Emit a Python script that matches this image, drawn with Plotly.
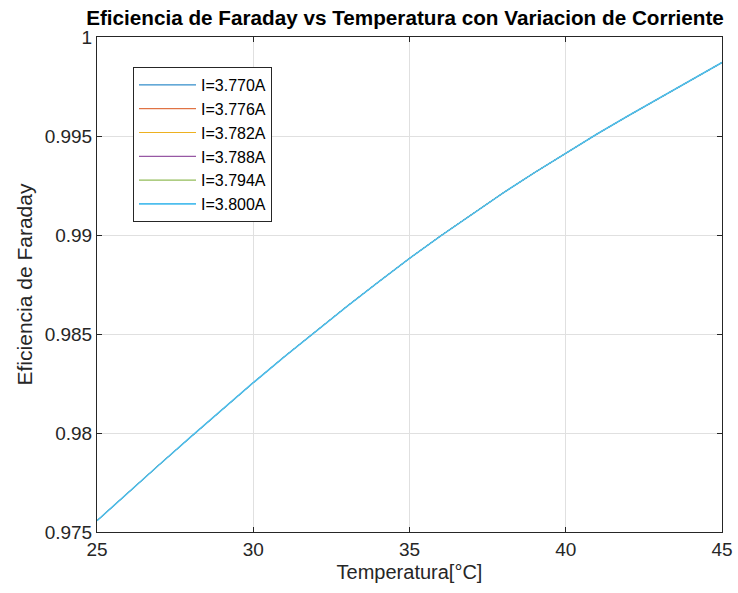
import plotly.graph_objects as go

# Data
temperatura = [25, 26, 27, 28, 29, 30, 31, 32, 33, 34, 35,
               36, 37, 38, 39, 40, 41, 42, 43, 44, 45]
eficiencia = [0.97557, 0.97700, 0.97841, 0.97980, 0.98117, 0.98254,
              0.98386, 0.98515, 0.98640, 0.98762, 0.98882, 0.98996,
              0.99106, 0.99213, 0.99315, 0.99413, 0.99510, 0.99602,
              0.99692, 0.99781, 0.99871]
corrientes = ["I=3.770A", "I=3.776A", "I=3.782A", "I=3.788A", "I=3.794A", "I=3.800A"]
colores = ["#0072BD", "#D95319", "#EDB120", "#7E2F8E", "#77AC30", "#4DBEEE"]
anchos = [1.0, 1.0, 1.0, 1.0, 1.0, 1.6]

x_ticks = [25, 30, 35, 40, 45]
y_ticks = [0.975, 0.98, 0.985, 0.99, 0.995, 1]
y_ticklabels = ["0.975", "0.98", "0.985", "0.99", "0.995", "1"]

FONT = "Liberation Sans, Arial, sans-serif"

fig = go.Figure()
for i, (name, col, w) in enumerate(zip(corrientes, colores, anchos)):
    fig.add_trace(go.Scatter(
        x=temperatura, y=eficiencia, mode="lines", name=name,
        line=dict(color=col, width=w), legendgroup=str(i)))

axis_common = dict(
    showline=True, linecolor="#262626", linewidth=1, mirror="ticks",
    ticks="inside", ticklen=5, tickcolor="#262626", tickwidth=1,
    showgrid=True, gridcolor="#e0e0e0", gridwidth=1, zeroline=False,
    automargin=False,
    tickfont=dict(family=FONT, size=19, color="#262626"),
)

fig.update_layout(
    width=738, height=593,
    margin=dict(l=97, r=16, t=37, b=61, autoexpand=False),
    paper_bgcolor="white", plot_bgcolor="white",
    title=dict(text="<b>Eficiencia de Faraday vs Temperatura con Variacion de Corriente</b>",
               x=405 / 738, xanchor="center", y=1 - 18 / 593, yanchor="middle",
               font=dict(family=FONT, size=20.7, color="black")),
    xaxis=dict(range=[25, 45], tickvals=x_ticks,
               title=dict(text="Temperatura[°C]", standoff=6,
                          font=dict(family=FONT, size=20, color="#262626")),
               **axis_common),
    yaxis=dict(range=[0.975, 1], tickvals=y_ticks, ticktext=y_ticklabels,
               title=dict(text="Eficiencia de Faraday", standoff=6,
                          font=dict(family=FONT, size=21, color="#262626")),
               **axis_common),
    legend=dict(x=(133 - 97) / 625, y=(532 - 67) / 495, xanchor="left", yanchor="top",
                bgcolor="white", bordercolor="#262626", borderwidth=1,
                tracegroupgap=0, itemwidth=57,
                font=dict(family=FONT, size=16, color="black")),
    showlegend=True,
)

fig.write_html("out.html")
